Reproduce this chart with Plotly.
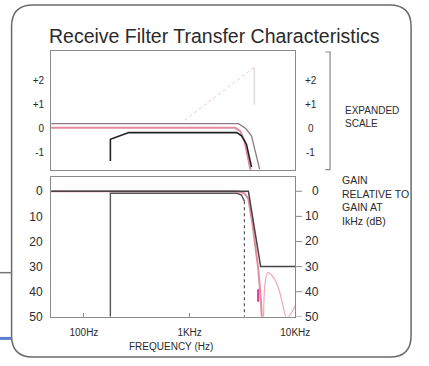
import plotly.graph_objects as go

# ---- data (frequency in Hz) ----
# expanded scale panel (gain, dB)
upper_mask_f = [48, 2900, 3400, 3850, 4600]
upper_mask_g = [0.2, 0.2, 0.0, -0.3, -1.7]
lower_mask_f = [178, 178, 266, 2800, 3100, 3450, 3850]
lower_mask_g = [-1.35, -0.45, -0.17, -0.17, -0.3, -0.65, -1.6]
resp_top_f = [48, 2700, 3000, 3300, 3600, 3800]
resp_top_g = [0.03, 0.03, -0.1, -0.5, -1.3, -1.8]
ghost_f = [900, 4100]
ghost_g = [0.35, 2.55]
ghost_drop_f = [4100, 4100]
ghost_drop_g = [2.55, 1.0]

# full scale panel (attenuation relative to 1 kHz, dB)
min_gain_f = [178, 178, 2800, 3100, 3300]
min_gain_a = [50, 0.8, 0.8, 1.5, 4.0]
min_edge_f = [3300, 3300]
min_edge_a = [4.0, 50]
max_gain_f = [48, 3600, 4700, 10000]
max_gain_a = [0, 0, 30, 30]
resp_f = [48, 2800, 3300, 3600, 3900, 4200, 4450, 4700, 4850]
resp_a = [0, 0, 0.8, 3, 12, 22, 30.5, 42, 52]
lobe_f = [5000, 5200, 5500, 6000, 6800, 7600, 8300, 9000, 10000]
lobe_a = [52, 36, 32.4, 33.5, 37.5, 45, 50.5, 49, 45.5]
notch_f = [4450, 4450]
notch_a = [39, 44]

top_ticks = [2, 1, 0, -1]
top_labels = ["+2", "+1", "0", "-1"]
bot_ticks = [0, 10, 20, 30, 40, 50]
bot_labels = ["0", "10", "20", "30", "40", "50"]
freq_ticks = [100, 1000, 10000]
freq_labels = ["100Hz", "1KHz", "10KHz"]

W, H = 429, 366


def px(x):
    return x / W


def py(y):
    return 1 - y / H


FONT = "Liberation Sans"
INK = "#2b2b2b"
PINK = "#e48a9e"

fig = go.Figure()

# top panel
fig.add_trace(go.Scatter(x=ghost_f, y=ghost_g, mode="lines",
                         line=dict(color="#f2c2cc", width=1, dash="dot"), xaxis="x", yaxis="y"))
fig.add_trace(go.Scatter(x=ghost_drop_f, y=ghost_drop_g, mode="lines",
                         line=dict(color="#dddddd", width=1.5), xaxis="x", yaxis="y"))
fig.add_trace(go.Scatter(x=resp_top_f, y=resp_top_g, mode="lines",
                         line=dict(color=PINK, width=2), xaxis="x", yaxis="y"))
fig.add_trace(go.Scatter(x=upper_mask_f, y=upper_mask_g, mode="lines",
                         line=dict(color="#8d7a80", width=1.3), xaxis="x", yaxis="y"))
fig.add_trace(go.Scatter(x=lower_mask_f, y=lower_mask_g, mode="lines",
                         line=dict(color="#222222", width=1.6), xaxis="x", yaxis="y"))

# bottom panel
fig.add_trace(go.Scatter(x=resp_f, y=resp_a, mode="lines",
                         line=dict(color=PINK, width=2), xaxis="x2", yaxis="y2"))
fig.add_trace(go.Scatter(x=lobe_f, y=lobe_a, mode="lines", line_shape="spline",
                         line=dict(color="#f0a8b8", width=1.2), xaxis="x2", yaxis="y2"))
fig.add_trace(go.Scatter(x=notch_f, y=notch_a, mode="lines",
                         line=dict(color="#e0359a", width=2), xaxis="x2", yaxis="y2"))
fig.add_trace(go.Scatter(x=min_gain_f, y=min_gain_a, mode="lines",
                         line=dict(color="#555555", width=1.4), xaxis="x2", yaxis="y2"))
fig.add_trace(go.Scatter(x=min_edge_f, y=min_edge_a, mode="lines",
                         line=dict(color="#555555", width=1.2, dash="dot"), xaxis="x2", yaxis="y2"))
fig.add_trace(go.Scatter(x=max_gain_f, y=max_gain_a, mode="lines",
                         line=dict(color="#444444", width=1.5), xaxis="x2", yaxis="y2"))

frame = dict(showline=True, mirror=True, linecolor="#8a8a8a", linewidth=1.2,
             showgrid=False, zeroline=False)
xdom = [px(53), px(306)]
xr = [1.69, 4.0]

fig.update_layout(
    width=W, height=H,
    margin=dict(l=0, r=0, t=0, b=0),
    paper_bgcolor="white", plot_bgcolor="white",
    showlegend=False,
    font=dict(family=FONT, color=INK),
    xaxis=dict(frame, domain=xdom, type="log", range=xr, anchor="y",
               showticklabels=False, ticks=""),
    yaxis=dict(frame, domain=[py(173), py(52)], range=[-1.71, 3.22], anchor="x",
               tickvals=top_ticks, ticktext=top_labels, ticks="",
               ticklabelstandoff=4, tickfont=dict(size=10)),
    xaxis2=dict(frame, domain=xdom, type="log", range=xr, anchor="y2",
                tickvals=freq_ticks, ticktext=freq_labels, ticks="inside",
                ticklen=4, tickcolor="#8a8a8a", ticklabelstandoff=6,
                tickfont=dict(size=10)),
    yaxis2=dict(frame, domain=[py(323), py(180)], range=[50, -5.86], anchor="x2",
                tickvals=bot_ticks, ticktext=bot_labels, ticks="",
                ticklabelstandoff=5, tickfont=dict(size=12)),
)

ann = [
    dict(text="Receive Filter Transfer Characteristics", x=px(222), y=py(37),
         font=dict(size=19.5)),
    dict(text="FREQUENCY (Hz)", x=px(177), y=py(353), font=dict(size=10)),
    dict(text="EXPANDED<br>SCALE", x=px(355), y=py(119), xanchor="left",
         align="left", font=dict(size=10)),
    dict(text="GAIN<br>RELATIVE TO<br>GAIN AT<br>IkHz (dB)", x=px(352), y=py(204),
         xanchor="left", align="left", font=dict(size=10.5)),
]
for a in ann:
    a.setdefault("xanchor", "center")
    fig.add_annotation(xref="paper", yref="paper", yanchor="middle",
                       showarrow=False, **a)

# right-hand tick labels
for v, t in zip(top_ticks, top_labels):
    fig.add_annotation(xref="paper", yref="y", x=px(322), y=v, text=t,
                       showarrow=False, font=dict(size=10), xanchor="center")
for v, t in zip(bot_ticks, bot_labels):
    fig.add_annotation(xref="paper", yref="y2", x=px(333), y=v, text=t,
                       showarrow=False, font=dict(size=12), xanchor="right")
    fig.add_shape(type="line", xref="paper", yref="y2", x0=px(306), x1=px(313),
                  y0=v, y1=v, line=dict(color="#8a8a8a", width=1))

# rounded outer border
L, R, T, B, r = 12, 426, 5, 364, 22
path = (f"M {px(L + r)},{py(T)} L {px(R - r)},{py(T)} Q {px(R)},{py(T)} {px(R)},{py(T + r)} "
        f"L {px(R)},{py(B - r)} Q {px(R)},{py(B)} {px(R - r)},{py(B)} "
        f"L {px(L + r)},{py(B)} Q {px(L)},{py(B)} {px(L)},{py(B - r)} "
        f"L {px(L)},{py(T + r)} Q {px(L)},{py(T)} {px(L + r)},{py(T)} Z")
fig.add_shape(type="path", xref="paper", yref="paper", path=path,
              line=dict(color="#6a6a6a", width=1.5))

# bracket for expanded scale
fig.add_shape(type="path", xref="paper", yref="paper",
              path=f"M {px(337)},{py(53)} L {px(342)},{py(53)} L {px(342)},{py(173)} L {px(337)},{py(173)}",
              line=dict(color="#8a8a8a", width=1.2))

# bits of the neighbouring page at the left edge
fig.add_shape(type="line", xref="paper", yref="paper", x0=0, x1=px(12),
              y0=py(278), y1=py(278), line=dict(color="#777777", width=1.5))
fig.add_shape(type="line", xref="paper", yref="paper", x0=0, x1=px(12),
              y0=py(345), y1=py(345), line=dict(color="#5b7fd0", width=3))

fig.write_html("out.html", config={"displayModeBar": False},
               post_script="document.body.style.margin='0';document.body.style.overflow='hidden';")
